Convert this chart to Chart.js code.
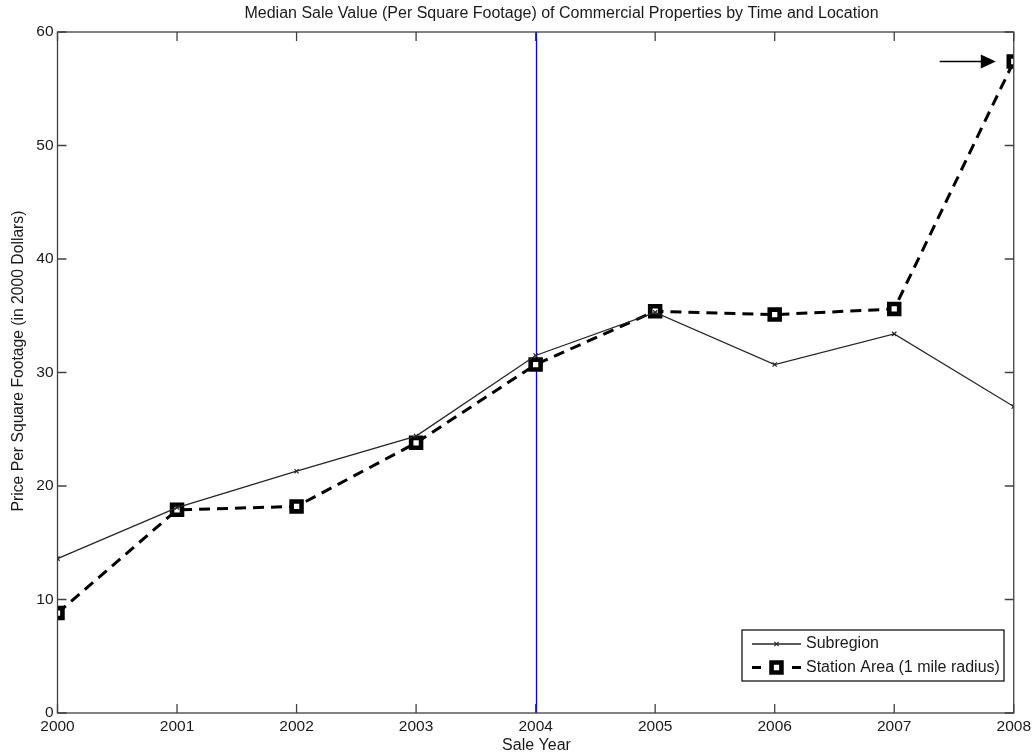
<!DOCTYPE html>
<html>
<head>
<meta charset="utf-8">
<script src="https://cdn.jsdelivr.net/npm/chart.js@4/dist/chart.umd.min.js"></script>
<style>
html,body{margin:0;padding:0;background:#fff;}
#wrap{width:1035px;height:756px;position:relative;}
</style>
</head>
<body>
<div id="wrap"><canvas id="c" width="1035" height="756"></canvas></div>
<script>
// ---- data ----
const years = [2000, 2001, 2002, 2003, 2004, 2005, 2006, 2007, 2008];
const subregion = [13.6, 18.1, 21.3, 24.4, 31.5, 35.3, 30.7, 33.4, 27.0];
const stationArea = [8.8, 17.9, 18.2, 23.8, 30.7, 35.4, 35.1, 35.6, 57.4];
const seriesNames = ['Subregion', 'Station Area (1 mile radius)'];
const yTicks = [0, 10, 20, 30, 40, 50, 60];
const xTicks = [2000, 2001, 2002, 2003, 2004, 2005, 2006, 2007, 2008];
const markerYear = 2004;
const arrowFrom = [2007.38, 57.4];
const arrowTo = [2007.85, 57.4];
const titleText = 'Median Sale Value (Per Square Footage) of Commercial Properties by Time and Location';
const xTitle = 'Sale Year';
const yTitle = 'Price Per Square Footage (in 2000 Dollars)';

const FONT = '"Liberation Sans", Arial, sans-serif';
const AXIS = '#404040';
const TXT = '#1a1a1a';

const overlay = {
  id: 'overlay',
  afterDraw(chart) {
    const ctx = chart.ctx;
    const xs = chart.scales.x, ys = chart.scales.y;
    const a = chart.chartArea;
    ctx.save();
    // box
    ctx.strokeStyle = AXIS;
    ctx.lineWidth = 1.3;
    ctx.strokeRect(a.left, a.top, a.right - a.left, a.bottom - a.top);
    // inward ticks
    const tl = 9;
    ctx.beginPath();
    xTicks.forEach(v => {
      const px = xs.getPixelForValue(v);
      ctx.moveTo(px, a.bottom); ctx.lineTo(px, a.bottom - tl);
      ctx.moveTo(px, a.top); ctx.lineTo(px, a.top + tl);
    });
    yTicks.forEach(v => {
      const py = ys.getPixelForValue(v);
      ctx.moveTo(a.left, py); ctx.lineTo(a.left + tl, py);
      ctx.moveTo(a.right, py); ctx.lineTo(a.right - tl, py);
    });
    ctx.stroke();
    // title
    ctx.fillStyle = TXT;
    ctx.font = '16px ' + FONT;
    ctx.textAlign = 'center';
    ctx.textBaseline = 'middle';
    ctx.fillText(titleText, 561.5, 14);
    // axis titles
    ctx.fillText(xTitle, 536.5, 746);
    ctx.save();
    ctx.font = '15.7px ' + FONT;
    ctx.translate(18.5, 361);
    ctx.rotate(-Math.PI / 2);
    ctx.fillText(yTitle, 0, 0);
    ctx.restore();
    // arrow
    const ax0 = xs.getPixelForValue(arrowFrom[0]), ay0 = ys.getPixelForValue(arrowFrom[1]);
    const ax1 = xs.getPixelForValue(arrowTo[0]), ay1 = ys.getPixelForValue(arrowTo[1]);
    ctx.strokeStyle = '#000';
    ctx.fillStyle = '#000';
    ctx.lineWidth = 1.3;
    ctx.beginPath();
    ctx.moveTo(ax0, ay0); ctx.lineTo(ax1 - 14, ay1);
    ctx.stroke();
    ctx.beginPath();
    ctx.moveTo(ax1, ay1);
    ctx.lineTo(ax1 - 15, ay1 - 7);
    ctx.lineTo(ax1 - 15, ay1 + 7);
    ctx.closePath();
    ctx.fill();
    // legend
    const lx = 742, ly = 630, lw = 262, lh = 51;
    ctx.fillStyle = '#fff';
    ctx.fillRect(lx, ly, lw, lh);
    ctx.strokeStyle = '#000';
    ctx.lineWidth = 1.2;
    ctx.strokeRect(lx, ly, lw, lh);
    const ds = chart.data.datasets;
    const rows = [644, 667.5];
    ds.forEach((d, i) => {
      const y = rows[i];
      ctx.save();
      ctx.strokeStyle = d.borderColor;
      ctx.lineWidth = d.borderWidth;
      ctx.setLineDash([]);
      ctx.beginPath();
      if (d.borderDash) {
        ctx.moveTo(752, y); ctx.lineTo(761, y);
        ctx.moveTo(792, y); ctx.lineTo(801, y);
      } else {
        ctx.moveTo(752, y); ctx.lineTo(801, y);
      }
      ctx.stroke();
      ctx.restore();
      ctx.save();
      ctx.fillStyle = d.pointBackgroundColor;
      ctx.strokeStyle = d.pointBorderColor;
      ctx.lineWidth = d.pointBorderWidth;
      Chart.helpers.drawPoint(ctx, {
        pointStyle: d.pointStyle, radius: d.pointRadius, borderWidth: d.pointBorderWidth, rotation: 0
      }, 776.5, y);
      ctx.restore();
      ctx.fillStyle = TXT;
      ctx.font = '16px ' + FONT;
      ctx.textAlign = 'left';
      ctx.textBaseline = 'middle';
      ctx.fillText(seriesNames[i], 806, y);
    });
    ctx.restore();
  },
  beforeDatasetsDraw(chart) {
    const ctx = chart.ctx;
    const xs = chart.scales.x;
    const a = chart.chartArea;
    const px = Math.round(xs.getPixelForValue(markerYear)) + 0.5;
    ctx.save();
    ctx.strokeStyle = '#0000ff';
    ctx.lineWidth = 1.3;
    ctx.beginPath();
    ctx.moveTo(px, a.top); ctx.lineTo(px, a.bottom);
    ctx.stroke();
    ctx.restore();
  }
};

new Chart(document.getElementById('c'), {
  type: 'line',
  data: {
    datasets: [
      {
        label: seriesNames[0],
        data: years.map((x, i) => ({ x, y: subregion[i] })),
        borderColor: '#262626',
        borderWidth: 1.3,
        pointStyle: 'crossRot',
        pointRadius: 3,
        pointBorderWidth: 1.2,
        pointBorderColor: '#262626',
        pointBackgroundColor: '#262626',
        tension: 0,
        fill: false
      },
      {
        label: seriesNames[1],
        data: years.map((x, i) => ({ x, y: stationArea[i] })),
        borderColor: '#000',
        borderWidth: 3,
        borderDash: [11, 7],
        pointStyle: 'rect',
        pointRadius: 7,
        pointBorderWidth: 4.6,
        pointBorderColor: '#000',
        pointBackgroundColor: '#fff',
        tension: 0,
        fill: false
      }
    ]
  },
  options: {
    responsive: false,
    animation: false,
    events: [],
    layout: { padding: { top: 32, right: 21, left: 0, bottom: 0 } },
    plugins: { legend: { display: false }, title: { display: false }, tooltip: { enabled: false } },
    scales: {
      x: {
        type: 'linear', min: 2000, max: 2008,
        afterBuildTicks: s => { s.ticks = xTicks.map(v => ({ value: v })); },
        afterFit: s => { s.height = 43; },
        grid: { display: false, drawTicks: false },
        border: { display: false },
        ticks: { color: TXT, font: { family: FONT, size: 15.5 }, padding: 4, callback: v => String(v), maxRotation: 0, autoSkip: false }
      },
      y: {
        min: 0, max: 60,
        afterBuildTicks: s => { s.ticks = yTicks.map(v => ({ value: v })); },
        afterFit: s => { s.width = 57.5; },
        grid: { display: false, drawTicks: false },
        border: { display: false },
        ticks: { color: TXT, font: { family: FONT, size: 15.5 }, padding: 4 }
      }
    }
  },
  plugins: [overlay]
});
</script>
</body>
</html>
